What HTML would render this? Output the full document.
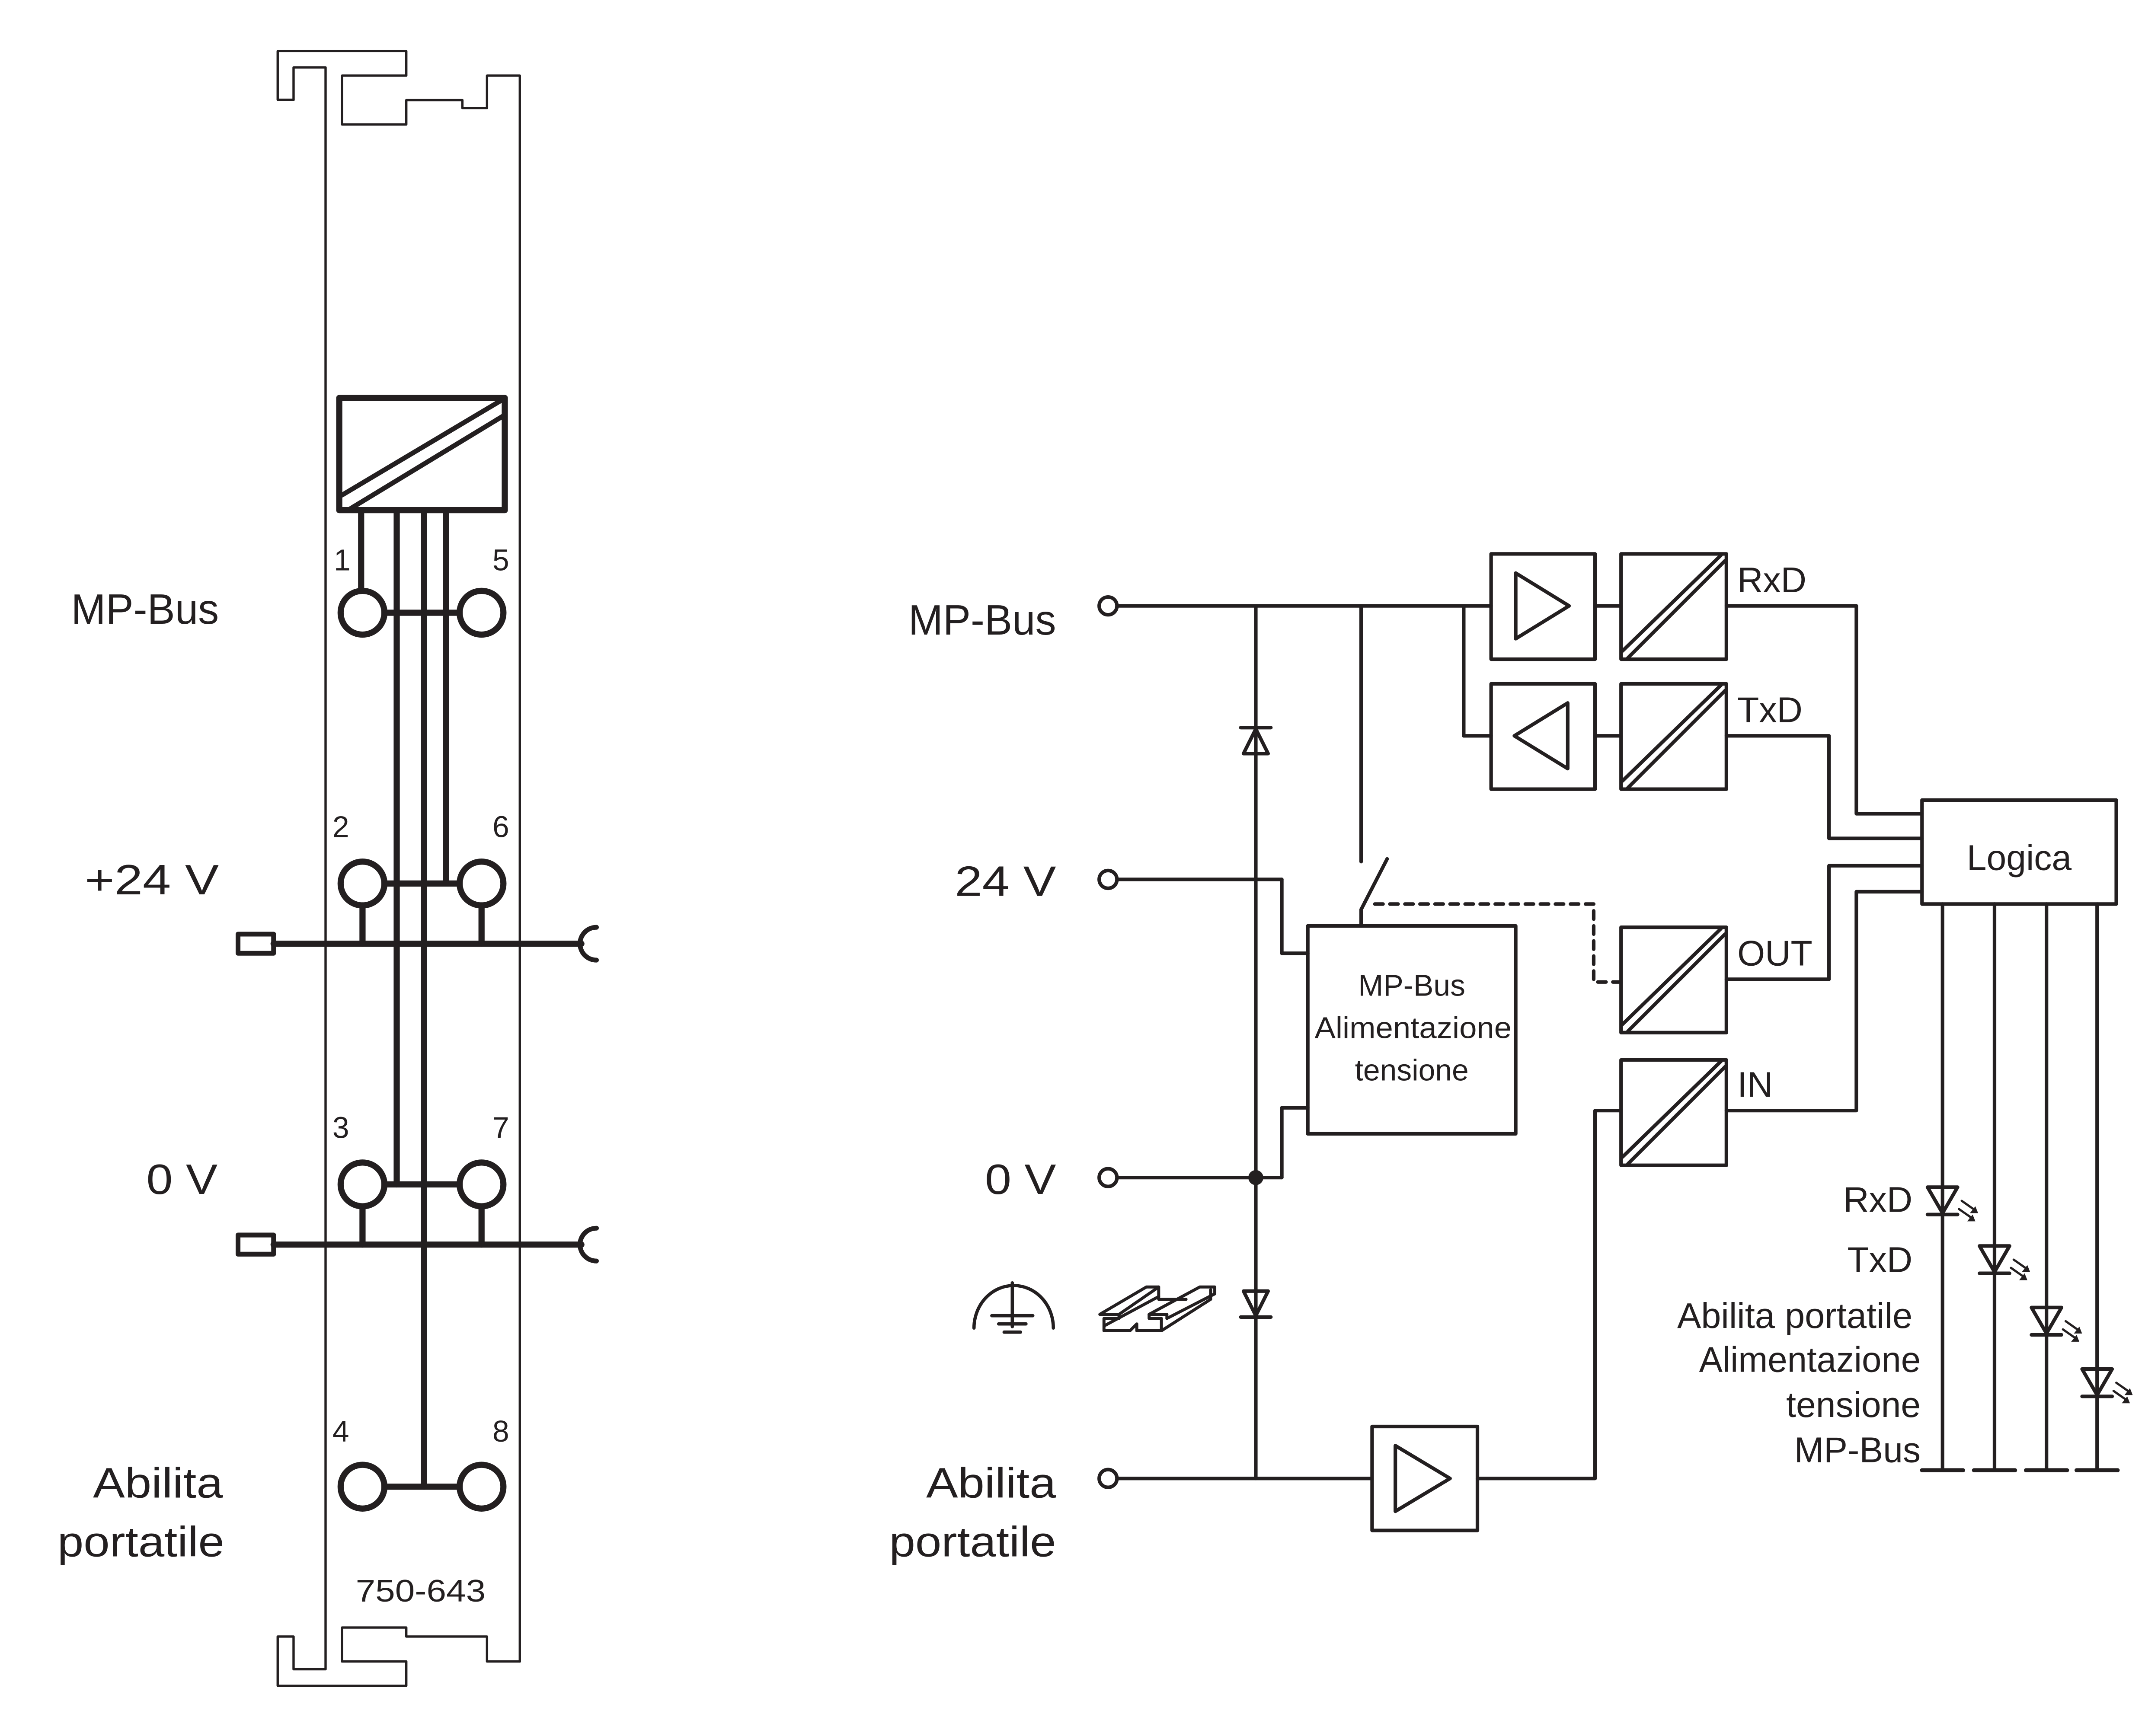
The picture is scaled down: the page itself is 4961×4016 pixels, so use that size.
<!DOCTYPE html>
<html><head><meta charset="utf-8"><style>html,body{margin:0;padding:0;background:#fff}svg{display:block}</style></head>
<body>
<svg xmlns="http://www.w3.org/2000/svg" width="4961" height="4016" viewBox="0 0 1568 1269.3" preserveAspectRatio="none" font-family="Liberation Sans, sans-serif" fill="none" stroke="#231f20" stroke-linecap="round" stroke-linejoin="round">
<!-- LEFT MODULE rail -->
<g stroke-width="1.7">
<path d="M214.6,73 L203,73 L203,37.4 L297,37.4 L297,55.3 L250,55.3 L250,91 L297,91 L297,73.2 L338,73.2 L338,79 L356,79 L356,55.3 L380,55.3 L380,1214.8"/>
<path d="M214.6,73 L214.6,49.3 L238,49.3 L238,1220.5 L214.6,1220.5 L214.6,1196.6 L203,1196.6 L203,1232.6 L297,1232.6 L297,1214.8 L250,1214.8 L250,1190 L297,1190 L297,1196.6 L356,1196.6 L356,1214.8 L380,1214.8"/>
</g>
<g stroke-width="4.5">
<rect x="248" y="291" width="121" height="82"/>
<line x1="250" y1="362" x2="366" y2="293" stroke-width="3.5"/>
<line x1="256" y1="372" x2="368" y2="304" stroke-width="3.5"/>
<line x1="264" y1="373" x2="264" y2="432"/>
<line x1="290" y1="373" x2="290" y2="866"/>
<line x1="310" y1="373" x2="310" y2="1087"/>
<line x1="326" y1="373" x2="326" y2="646"/>
<line x1="281" y1="448" x2="336" y2="448"/>
<line x1="281" y1="646" x2="336" y2="646"/>
<line x1="281" y1="866" x2="336" y2="866"/>
<line x1="281" y1="1087" x2="336" y2="1087"/>
<circle cx="265" cy="448" r="16"/><circle cx="352" cy="448" r="16"/>
<circle cx="265" cy="646" r="16"/><circle cx="352" cy="646" r="16"/>
<circle cx="265" cy="866" r="16"/><circle cx="352" cy="866" r="16"/>
<circle cx="265" cy="1087" r="16"/><circle cx="352" cy="1087" r="16"/>
<line x1="200" y1="690" x2="425" y2="690"/>
<line x1="265" y1="662" x2="265" y2="690"/><line x1="352" y1="662" x2="352" y2="690"/>
<rect x="174" y="683" width="26" height="14" stroke-width="3.5"/>
<path d="M436,678 A12,12 0 0 0 436,702" stroke-width="3.5"/>
<line x1="200" y1="910" x2="425" y2="910"/>
<line x1="265" y1="882" x2="265" y2="910"/><line x1="352" y1="882" x2="352" y2="910"/>
<rect x="174" y="903" width="26" height="14" stroke-width="3.5"/>
<path d="M436,898 A12,12 0 0 0 436,922" stroke-width="3.5"/>
</g>
<g fill="#231f20" stroke="none">
<text x="52" y="456" font-size="31" textLength="108" lengthAdjust="spacingAndGlyphs">MP-Bus</text>
<text x="62" y="654" font-size="31" textLength="98" lengthAdjust="spacingAndGlyphs">+24 V</text>
<text x="107" y="873" font-size="31" textLength="52" lengthAdjust="spacingAndGlyphs">0 V</text>
<text x="68" y="1095" font-size="31" textLength="95" lengthAdjust="spacingAndGlyphs">Abilita</text>
<text x="42" y="1138" font-size="31" textLength="122" lengthAdjust="spacingAndGlyphs">portatile</text>
<text x="244" y="417" font-size="22">1</text><text x="360" y="417" font-size="22">5</text>
<text x="243" y="612" font-size="22">2</text><text x="360" y="612" font-size="22">6</text>
<text x="243" y="832" font-size="22">3</text><text x="360" y="832" font-size="22">7</text>
<text x="243" y="1054" font-size="22">4</text><text x="360" y="1054" font-size="22">8</text>
<text x="260" y="1171" font-size="23" textLength="95" lengthAdjust="spacingAndGlyphs">750-643</text>
</g>

<!-- RIGHT DIAGRAM -->
<g stroke-width="2.6">
<circle cx="810" cy="443" r="6.5"/><circle cx="810" cy="643" r="6.5"/><circle cx="810" cy="861" r="6.5"/><circle cx="810" cy="1081" r="6.5"/>
<line x1="817" y1="443" x2="1090" y2="443"/>
<line x1="918" y1="443" x2="918" y2="1081"/>
<line x1="817" y1="643" x2="937" y2="643"/>
<path d="M937,643 L937,697 L956,697"/>
<line x1="817" y1="861" x2="937" y2="861"/>
<path d="M937,861 L937,810 L956,810"/>
<rect x="956" y="677" width="152" height="152"/>
<line x1="995" y1="443" x2="995" y2="630"/>
<path d="M995,677 L995,665 L1014,628"/>
<path d="M1005,661 L1165,661 L1165,718 L1185,718" stroke-dasharray="6,5"/>
<path d="M909,551 L927,551 L918,533 Z"/><line x1="907" y1="532" x2="929" y2="532"/>
<path d="M909,944 L927,944 L918,962 Z"/><line x1="907" y1="963" x2="929" y2="963"/>
<rect x="1090" y="405" width="76" height="77"/>
<path d="M1108,419 L1147,443 L1108,467 Z"/>
<rect x="1090" y="500" width="76" height="77"/>
<path d="M1146,514 L1107,538 L1146,562 Z"/>
<line x1="1070" y1="443" x2="1070" y2="538"/><line x1="1070" y1="538" x2="1090" y2="538"/>
<line x1="1166" y1="443" x2="1185" y2="443"/><line x1="1166" y1="538" x2="1185" y2="538"/>
<rect x="1185" y="405" width="77" height="77"/><path d="M1186,476 L1258,406 M1190,481 L1261,410"/>
<rect x="1185" y="500" width="77" height="77"/><path d="M1186,571 L1258,501 M1190,576 L1261,505"/>
<rect x="1185" y="678" width="77" height="77"/><path d="M1186,749 L1258,679 M1190,754 L1261,683"/>
<rect x="1185" y="775" width="77" height="77"/><path d="M1186,846 L1258,776 M1190,851 L1261,780"/>
<path d="M1262,443 L1357,443 L1357,595 L1405,595"/>
<path d="M1262,538 L1337,538 L1337,613 L1405,613"/>
<path d="M1405,633 L1337,633 L1337,716 L1262,716"/>
<path d="M1405,652 L1357,652 L1357,812 L1262,812"/>
<rect x="1405" y="585" width="142" height="76"/>
<path d="M817,1081 L1003,1081"/>
<rect x="1003" y="1043" width="77" height="76"/>
<path d="M1020,1057 L1060,1081 L1020,1105 Z"/>
<path d="M1080,1081 L1166,1081 L1166,812 L1185,812"/>
<line x1="1420" y1="661" x2="1420" y2="1075"/>
<line x1="1458" y1="661" x2="1458" y2="1075"/>
<line x1="1496" y1="661" x2="1496" y2="1075"/>
<line x1="1533" y1="661" x2="1533" y2="1075"/>
<line x1="1405" y1="1075" x2="1435" y2="1075" stroke-width="3"/>
<line x1="1443" y1="1075" x2="1473" y2="1075" stroke-width="3"/>
<line x1="1481" y1="1075" x2="1511" y2="1075" stroke-width="3"/>
<line x1="1518" y1="1075" x2="1548" y2="1075" stroke-width="3"/>
<path d="M1409,868 L1431,868 L1420,887 Z"/><line x1="1409" y1="888" x2="1431" y2="888"/>
<path d="M1447,911 L1469,911 L1458,930 Z"/><line x1="1447" y1="931" x2="1469" y2="931"/>
<path d="M1485,956 L1507,956 L1496,975 Z"/><line x1="1485" y1="976" x2="1507" y2="976"/>
<path d="M1522,1001 L1544,1001 L1533,1020 Z"/><line x1="1522" y1="1021" x2="1544" y2="1021"/>
</g>
<g stroke-width="1.6">
<path d="M1434,878 L1444,885 M1432,884 L1442,891"/>
<path d="M1472,921 L1482,928 M1470,927 L1480,934"/>
<path d="M1510,966 L1520,973 M1508,972 L1518,979"/>
<path d="M1547,1011 L1557,1018 M1545,1017 L1555,1024"/>
</g>
<g fill="#231f20" stroke="none">
<path d="M1446,887 L1440,887 L1444,882 Z"/><path d="M1444,893 L1438,893 L1442,888 Z"/>
<path d="M1484,930 L1478,930 L1482,925 Z"/><path d="M1482,936 L1476,936 L1480,931 Z"/>
<path d="M1522,975 L1516,975 L1520,970 Z"/><path d="M1520,981 L1514,981 L1518,976 Z"/>
<path d="M1559,1020 L1553,1020 L1557,1015 Z"/><path d="M1557,1026 L1551,1026 L1555,1021 Z"/>
</g>
<circle cx="918" cy="861" r="5.5" fill="#231f20" stroke="none"/>
<g stroke-width="2.4">
<path d="M712,971 A28,30 0 0 1 770,971"/>
<line x1="740" y1="938" x2="740" y2="970"/>
<line x1="725" y1="962" x2="755" y2="962"/>
<line x1="730" y1="968" x2="750" y2="968"/>
<line x1="734" y1="974" x2="746" y2="974"/>
</g>
<g stroke-width="2.2">
<path d="M804,961 L838,941 L847,941 L847,950 L867,950"/>
<path d="M840,961 L877,941 L888,941 L888,946 L853,964"/>
<path d="M804,961 L818,961 L818,964 L807,964 L807,973 L826,973 L831,968 L831,973 L849,973 L849,964 L840,964 L840,961 L853,961 L853,964"/>
<path d="M818,961 L847,941"/>
<path d="M808,969 L847,948"/>
<path d="M849,973 L885,950 L885,943"/>
</g>
<g fill="#231f20" stroke="none">
<text x="772" y="464" font-size="31" text-anchor="end" textLength="108" lengthAdjust="spacingAndGlyphs">MP-Bus</text>
<text x="772" y="655" font-size="31" text-anchor="end" textLength="74" lengthAdjust="spacingAndGlyphs">24 V</text>
<text x="772" y="873" font-size="31" text-anchor="end" textLength="52" lengthAdjust="spacingAndGlyphs">0 V</text>
<text x="772" y="1095" font-size="31" text-anchor="end" textLength="95" lengthAdjust="spacingAndGlyphs">Abilita</text>
<text x="772" y="1138" font-size="31" text-anchor="end" textLength="122" lengthAdjust="spacingAndGlyphs">portatile</text>
<text x="1032" y="728" font-size="22" text-anchor="middle">MP-Bus</text>
<text x="1033" y="759" font-size="22" text-anchor="middle" textLength="144" lengthAdjust="spacingAndGlyphs">Alimentazione</text>
<text x="1032" y="790" font-size="22" text-anchor="middle">tensione</text>
<text x="1270" y="433" font-size="26">RxD</text>
<text x="1270" y="528" font-size="26">TxD</text>
<text x="1270" y="706" font-size="26">OUT</text>
<text x="1270" y="802" font-size="26">IN</text>
<text x="1476" y="636" font-size="26" text-anchor="middle">Logica</text>
<text x="1398" y="886" font-size="26" text-anchor="end">RxD</text>
<text x="1398" y="930" font-size="26" text-anchor="end">TxD</text>
<text x="1398" y="971" font-size="26" text-anchor="end" textLength="172" lengthAdjust="spacingAndGlyphs">Abilita portatile</text>
<text x="1404" y="1003" font-size="26" text-anchor="end" textLength="162" lengthAdjust="spacingAndGlyphs">Alimentazione</text>
<text x="1404" y="1036" font-size="26" text-anchor="end">tensione</text>
<text x="1404" y="1069" font-size="26" text-anchor="end">MP-Bus</text>
</g>
</svg>
</body></html>
